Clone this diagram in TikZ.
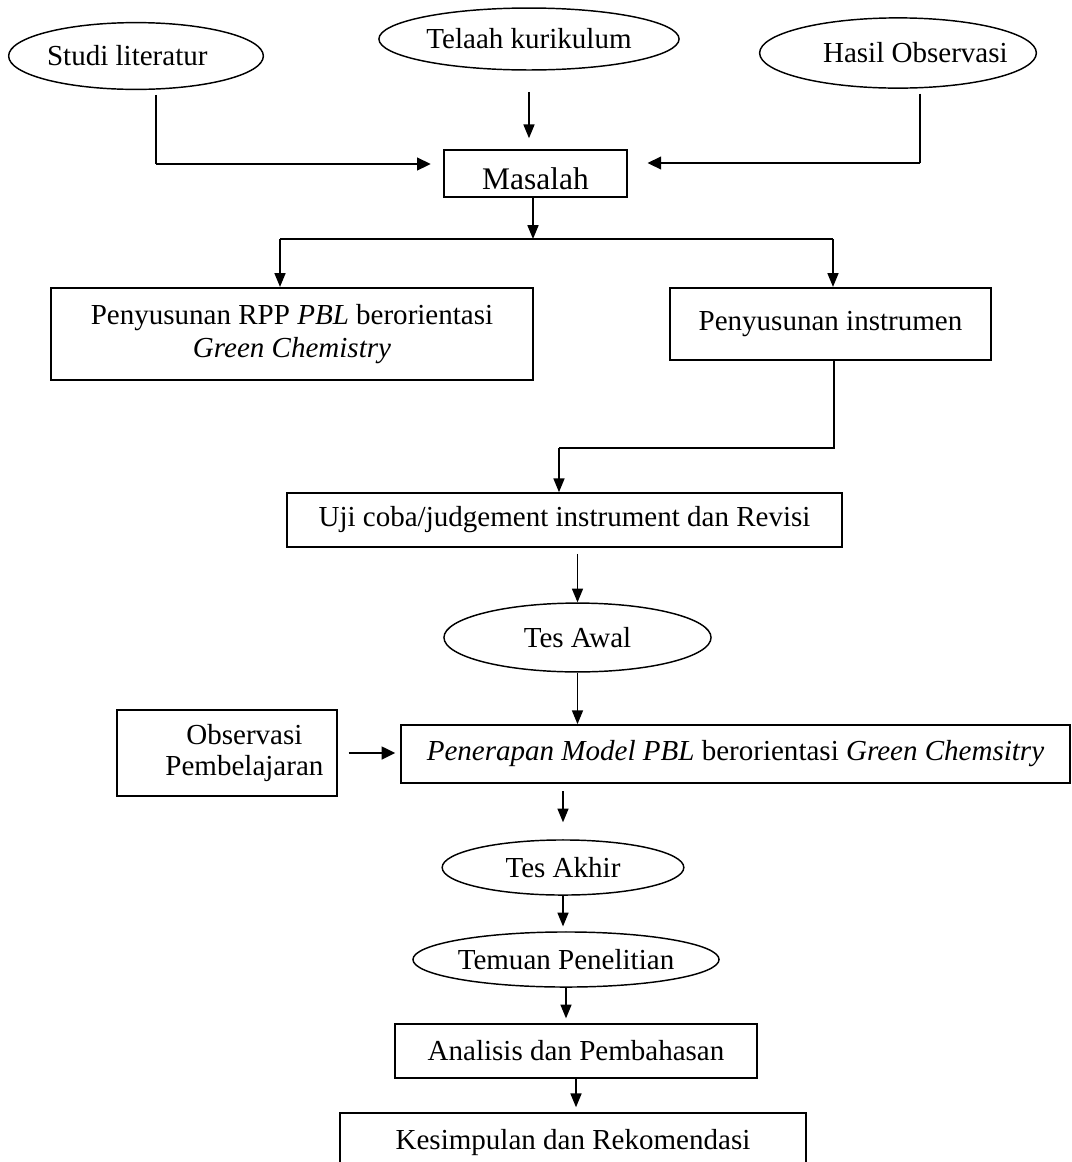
\documentclass[tikz,border=0pt]{standalone}
\usepackage{fontspec}
\setmainfont{Liberation Serif}
\usetikzlibrary{shapes.geometric,arrows.meta}

\begin{document}
\begin{tikzpicture}[x=0.01452cm,y=-0.01452cm,
		every node/.style={font=\fontsize{12}{14}\selectfont,inner sep=0pt,align=center},
		kotak/.style={draw,rectangle,line width=0.8pt},
		oval/.style={draw,ellipse,line width=0.6pt},
		garis/.style={line width=0.6pt},
		panah/.style={line width=0.6pt,-{Triangle[length=2mm,width=1.6mm]}},
		panahtebal/.style={line width=1.2pt,-{Triangle[length=2mm,width=1.8mm]}}
	]

	\useasboundingbox (0,0) rectangle (1072,1162);

	% Sumber masalah
	\node[oval,minimum width=3.70cm,minimum height=0.97cm] (studi) at (136,56) {\hspace*{-0.3em}Studi literatur\hspace*{0.3em}};
	\node[oval,minimum width=4.36cm,minimum height=0.90cm] (telaah) at (529,39) {Telaah kurikulum};
	\node[oval,minimum width=4.02cm,minimum height=1.02cm] (hasil) at (898,53) {\hspace*{0.6em}Hasil Observasi\hspace*{-0.6em}};

	\node[kotak,minimum width=2.66cm,minimum height=0.68cm,font=\fontsize{13}{15}\selectfont] (masalah) at (535.5,173.5) {\raisebox{-2pt}[\height][0pt]{Masalah}};

	% Penyusunan
	\node[kotak,minimum width=7.00cm,minimum height=1.34cm] (rpp) at (292,334) {Penyusunan RPP \textit{PBL} berorientasi\\\textit{Green Chemistry}};
	\node[kotak,minimum width=4.66cm,minimum height=1.05cm] (instr) at (830.5,324) {Penyusunan instrumen};

	\node[kotak,minimum width=8.06cm,minimum height=0.78cm] (uji) at (564.5,520) {Uji coba/judgement instrument dan Revisi};

	% Pelaksanaan
	\node[oval,minimum width=3.88cm,minimum height=1.00cm] (tesawal) at (577.5,637.5) {Tes Awal};
	\node[kotak,minimum width=9.71cm,minimum height=0.84cm] (penerapan) at (735.5,754) {\textit{Penerapan Model PBL} berorientasi \textit{Green Chemsitry}};
	\node[kotak,minimum width=3.19cm,minimum height=1.25cm] (obs) at (227,753) {\hspace*{1.2em}Observasi\\[-1pt]\hspace*{1.2em}Pembelajaran};
	\node[oval,minimum width=3.51cm,minimum height=0.80cm] (tesakhir) at (563,867.5) {Tes Akhir};
	\node[oval,minimum width=4.44cm,minimum height=0.80cm] (temuan) at (566,959.5) {Temuan Penelitian};
	\node[kotak,minimum width=5.26cm,minimum height=0.78cm] (analisis) at (576,1051) {Analisis dan Pembahasan};
	\node[kotak,minimum width=6.77cm,minimum height=0.87cm] (kesimpulan) at (573,1143) {Kesimpulan dan Rekomendasi};

	% Titik belok
	\coordinate (belokA) at (156,164);
	\coordinate (belokB) at (920,163);
	\coordinate (cabang) at (533,239);
	\coordinate (cabangL) at (280,239);
	\coordinate (cabangR) at (833,239);
	\coordinate (belokC) at (834,448);
	\coordinate (belokD) at (559,448);

	% Ke masalah
	\draw[garis,shorten <=2pt] (studi.south -| belokA) -- (belokA);
	\draw[panahtebal,shorten >=5pt] (belokA) -- (belokA -| masalah.west);
	\draw[panah,shorten <=8.7pt,shorten >=4.5pt] (telaah.south) -- (telaah.south |- masalah.north);
	\draw[garis,shorten <=2pt] (hasil.south -| belokB) -- (belokB);
	\draw[panahtebal,shorten >=8pt] (belokB) -- (belokB -| masalah.east);

	% Cabang
	\draw[panah] (masalah.south -| cabang) -- (cabang);
	\draw[garis] (cabangL) -- (cabangR);
	\draw[panah] (cabangL) -- (cabangL |- rpp.north);
	\draw[panah] (cabangR) -- (cabangR |- instr.north);

	\draw[garis] (instr.south -| belokC) -- (belokC) -- (belokD);
	\draw[panah] (belokD) -- (belokD |- uji.north);

	% Alur bawah
	\draw[panah,shorten <=2.5pt] (tesawal.north |- uji.south) -- (tesawal.north);
	\draw[panah] (tesawal.south) -- (tesawal.south |- penerapan.north);
	\draw[panahtebal,shorten <=4.5pt,shorten >=2pt] (obs.east) -- (obs.east -| penerapan.west);
	\draw[panah,shorten <=3pt,shorten >=7pt] (tesakhir.north |- penerapan.south) -- (tesakhir.north);
	\foreach \a/\b in {tesakhir/temuan,temuan/analisis,analisis/kesimpulan} {
		\draw[panah,shorten >=2pt] (\a.south) -- (\a.south |- \b.north);
	}

\end{tikzpicture}
\end{document}
